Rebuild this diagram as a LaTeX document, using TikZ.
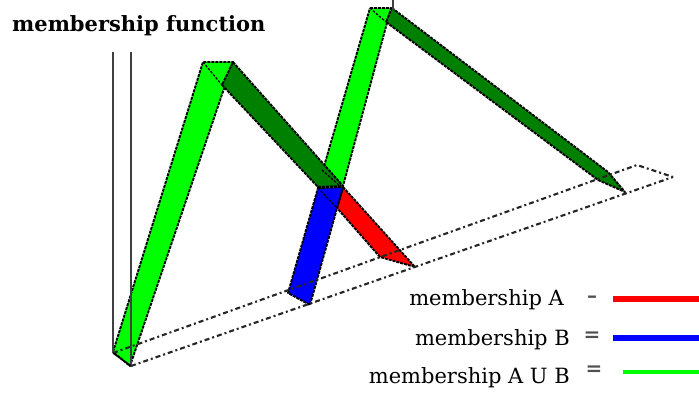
\documentclass[tikz,border=0pt]{standalone}
\usepackage{fontspec}
\setmainfont{DejaVu Serif}
\definecolor{lgreen}{RGB}{0,255,0}
\definecolor{dgreen}{RGB}{0,128,0}
\definecolor{symgray}{RGB}{80,80,80}
\begin{document}
\begin{tikzpicture}[x=1pt,y=-1pt,
  band/.style={draw=black, line width=1.9pt, dash pattern=on 3pt off 1pt, line join=round},
  foldline/.style={draw=black, line width=1.3pt, dash pattern=on 2.5pt off 1.5pt},
  floorline/.style={draw=black!85, line width=2.1pt, dash pattern=on 5pt off 3pt on 2pt off 3pt},
  axisline/.style={draw=black!75, line width=1.3pt},
  legtext/.style={font=\fontsize{21}{21}\selectfont, anchor=base east, inner sep=0pt},
  legsym/.style={font=\fontsize{20}{20}\selectfont\bfseries, text=symgray, inner sep=0pt},
  legline/.style={line width=6pt},
  titletext/.style={font=\fontsize{21}{21}\selectfont\bfseries, anchor=base west, inner sep=0pt}]
\useasboundingbox (0,0) rectangle (699,393);
% title
\node[titletext] (title) at (12,32) {membership function};
% light green rising band 2 (B above crossing)
\path[band, fill=lgreen] (370,8) -- (391,8) -- (343,186) -- (318,187) -- cycle;
% dark green descending band 2
\path[band, fill=dgreen] (392,8) -- (608,172) -- (625,192) -- (598,180) -- (386,22) -- cycle;
% light green rising band 1
\path[band, fill=lgreen] (113,352) -- (203,62) -- (233,62) -- (130,366) -- cycle;
% dark green descending band 1
\path[band, fill=dgreen] (233,62) -- (343,186) -- (318,187) -- (222,85) -- cycle;
% red (A below crossing)
\path[band, fill=red] (343,187) -- (415,267) -- (380,257) -- (337,208) -- cycle;
% blue (B below crossing)
\path[band, fill=blue] (318,188) -- (343,187) -- (310,305) -- (288,293) -- cycle;
% fold lines
\draw[foldline] (203,62) -- (222,85);
\draw[foldline] (370,8) -- (386,22);
\draw[foldline] (318,188) -- (337,208);
\draw[foldline] (322,170) -- (340,186);
\draw[axisline] (393,0) -- (393,10);
% floor
\coordinate (bl) at (113,353);
\coordinate (fl) at (131,366);
\coordinate (br) at (637,165);
\coordinate (fr) at (673,177);
\draw[floorline] (bl) -- (br) -- (fr);
\draw[floorline] (fl) -- (fr);
% axes
\draw[axisline] (113,52) -- (bl);
\draw[axisline] (131,52) -- (fl);
\draw[black, line width=1.5pt] (bl) -- (fl);
% legend
\node[legtext] (la) at (564,305) {membership A};
\node[legtext] (lb) at (570,345) {membership B};
\node[legtext] (lc) at (570,383) {membership A U B};
\node[legsym] (sa) at (592,299) {–};
\node[legsym] (sb) at (592,337) {=};
\node[legsym] (sc) at (594,371) {=};
\coordinate (ra) at (613,299);
\coordinate (ra2) at (699,299);
\coordinate (rb) at (613,338);
\coordinate (rb2) at (699,338);
\coordinate (rc) at (623,372);
\coordinate (rc2) at (699,372);
\draw[legline, red] (ra) -- (ra2);
\draw[legline, blue] (rb) -- (rb2);
\draw[line width=4pt, lgreen] (rc) -- (rc2);
\end{tikzpicture}
\end{document}
